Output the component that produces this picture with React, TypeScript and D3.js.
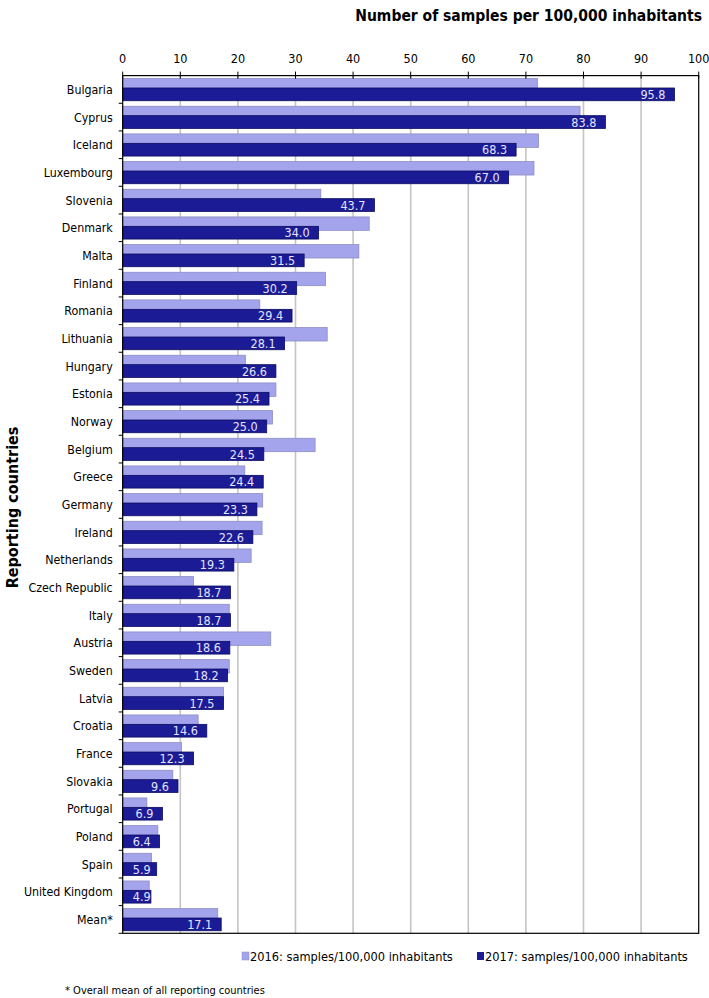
import React from "react";
import * as d3 from "d3";

const countries = [
  "Bulgaria", "Cyprus", "Iceland", "Luxembourg", "Slovenia", "Denmark", "Malta",
  "Finland", "Romania", "Lithuania", "Hungary", "Estonia", "Norway", "Belgium",
  "Greece", "Germany", "Ireland", "Netherlands", "Czech Republic", "Italy",
  "Austria", "Sweden", "Latvia", "Croatia", "France", "Slovakia", "Portugal",
  "Poland", "Spain", "United Kingdom", "Mean*",
];

const values2016 = [
  72.0, 79.4, 72.2, 71.4, 34.4, 42.8, 41.0, 35.2, 23.8, 35.5, 21.3, 26.6, 26.0,
  33.4, 21.2, 24.3, 24.2, 22.3, 12.3, 18.5, 25.7, 18.5, 17.5, 13.1, 10.2, 8.7,
  4.2, 6.1, 5.0, 4.6, 16.5,
];

const values2017 = [
  95.8, 83.8, 68.3, 67.0, 43.7, 34.0, 31.5, 30.2, 29.4, 28.1, 26.6, 25.4, 25.0,
  24.5, 24.4, 23.3, 22.6, 19.3, 18.7, 18.7, 18.6, 18.2, 17.5, 14.6, 12.3, 9.6,
  6.9, 6.4, 5.9, 4.9, 17.1,
];

const xTicks = [0, 10, 20, 30, 40, 50, 60, 70, 80, 90, 100];

const legendLabels = [
  "2016: samples/100,000 inhabitants",
  "2017: samples/100,000 inhabitants",
];

const W = 709;
const H = 998;
const margin = { left: 122.7, top: 75.6, right: 10.3 };
const plotBottom = 933.3;

const LIGHT = "#a4a4ec";
const LIGHT_STROKE = "#8c8cc4";
const DARK = "#1b1b95";
const DARK_STROKE = "#0c0c60";
const FONT = "Tahoma, 'DejaVu Sans Condensed', 'DejaVu Sans', sans-serif";

export default function App() {
  const x = d3
    .scaleLinear()
    .domain([0, 100])
    .range([margin.left, W - margin.right]);
  const y = d3
    .scaleBand()
    .domain(countries)
    .range([margin.top, plotBottom])
    .padding(0);
  const bw = y.bandwidth();

  return (
    <svg
      width={W}
      height={H}
      style={{ display: "block", position: "absolute", left: 0, top: 0, background: "#fff" }}
      fontFamily={FONT}
    >
      {/* title */}
      <text
        x={702}
        y={21}
        textAnchor="end"
        fontSize={15.5}
        fontWeight="bold"
        fill="#000"
      >
        Number of samples per 100,000 inhabitants
      </text>

      {/* grid */}
      {xTicks.slice(1, -1).map((t) => (
        <line
          key={"g" + t}
          x1={x(t)}
          x2={x(t)}
          y1={margin.top}
          y2={plotBottom}
          stroke="#c4c4c4"
          strokeWidth={1.6}
        />
      ))}

      {/* bars */}
      {countries.map((c, i) => {
        const y0 = y(c)!;
        return (
          <g key={c}>
            <rect
              x={x(0)}
              y={y0 + bw * 0.108}
              width={x(values2016[i]) - x(0)}
              height={bw * 0.485}
              fill={LIGHT}
              stroke={LIGHT_STROKE}
              strokeWidth={0.8}
            />
            <rect
              x={x(0)}
              y={y0 + bw * 0.448}
              width={x(values2017[i]) - x(0)}
              height={bw * 0.46}
              fill={DARK}
              stroke={DARK_STROKE}
              strokeWidth={0.8}
            />
            <text
              x={Math.max(x(values2017[i]) - 9, x(0) + 28)}
              y={y0 + bw * 0.448 + bw * 0.23}
              dy="0.36em"
              textAnchor="end"
              fontSize={12.5}
              fill="#e4e4ff"
            >
              {values2017[i].toFixed(1)}
            </text>
            <text
              x={x(0) - 10}
              y={y0 + bw / 2}
              dy="0.36em"
              textAnchor="end"
              fontSize={12.3}
              fill="#000"
            >
              {c}
            </text>
          </g>
        );
      })}

      {/* frame */}
      <rect
        x={x(0)}
        y={margin.top}
        width={x(100) - x(0)}
        height={plotBottom - margin.top}
        fill="none"
        stroke="#000"
        strokeWidth={1.2}
      />

      {/* top axis ticks and labels */}
      {xTicks.map((t) => (
        <g key={"t" + t}>
          <line
            x1={x(t)}
            x2={x(t)}
            y1={margin.top - 4}
            y2={margin.top + 3}
            stroke="#000"
          />
          <text
            x={x(t)}
            y={62.5}
            textAnchor="middle"
            fontSize={12.5}
            fill="#000"
          >
            {t}
          </text>
        </g>
      ))}

      {/* category ticks */}
      {countries.map((c) => (
        <line
          key={"ct" + c}
          x1={x(0) - 4}
          x2={x(0)}
          y1={y(c)! + bw}
          y2={y(c)! + bw}
          stroke="#000"
        />
      ))}

      {/* y axis title */}
      <text
        transform={`translate(18, ${(margin.top + plotBottom) / 2 + 3}) rotate(-90)`}
        textAnchor="middle"
        fontSize={16}
        fontWeight="bold"
        fill="#000"
      >
        Reporting countries
      </text>

      {/* legend */}
      <g fontSize={12.7}>
        <rect x={242} y={952} width={7} height={8} fill={LIGHT} stroke={LIGHT_STROKE} strokeWidth={0.5} />
        <text x={250} y={961} fill="#000">
          {legendLabels[0]}
        </text>
        <rect x={477} y={952} width={7} height={8} fill={DARK} />
        <text x={485} y={961} fill="#000">
          {legendLabels[1]}
        </text>
      </g>

      {/* footnote */}
      <text x={65} y={994} fontSize={11} fill="#000">
        * Overall mean of all reporting countries
      </text>
    </svg>
  );
}
